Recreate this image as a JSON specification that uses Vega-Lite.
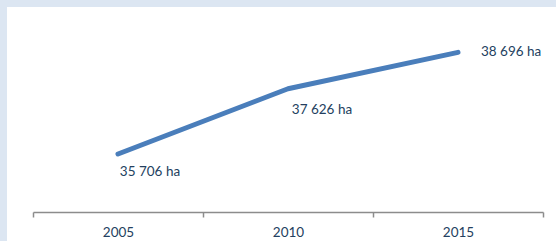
{
  "$schema": "https://vega.github.io/schema/vega-lite/v6.json",
  "width": 549,
  "height": 234,
  "autosize": {"type": "none"},
  "padding": {"left": 7, "top": 7, "right": 0, "bottom": 0},
  "background": "#dce6f2",
  "config": {"view": {"fill": "white", "stroke": null}, "font": "Lato"},
  "data": {"values": [
    {"year": "2005", "area": 35706, "label": "35 706 ha"},
    {"year": "2010", "area": 37626, "label": "37 626 ha"},
    {"year": "2015", "area": 38696, "label": "38 696 ha"}
  ]},
  "encoding": {
    "x": {"field": "year", "type": "ordinal", "bandPosition": 0.5,
      "scale": {"type": "band", "range": [26, 536], "paddingInner": 0, "paddingOuter": 0},
      "axis": {"title": null, "labelAngle": 0, "offset": -29, "tickBand": "extent",
        "domainColor": "#8c8c8c", "tickColor": "#8c8c8c", "tickSize": 5, "domainWidth": 1.5, "tickWidth": 1.5,
        "labelColor": "#243f60", "labelFontSize": 13.5, "labelPadding": 8, "labelFont": "Lato"}},
    "y": {"field": "area", "type": "quantitative", "scale": {"domain": [34000, 40000], "range": [205, 1], "zero": false}, "axis": null}
  },
  "layer": [
    {"mark": {"type": "line", "color": "#4a7ebb", "strokeWidth": 5, "strokeCap": "round", "strokeJoin": "round"}},
    {"transform": [{"filter": "datum.year == '2005'"}],
     "mark": {"type": "text", "dx": 32, "dy": 18, "align": "center", "baseline": "middle", "fontSize": 13.5, "color": "#243f60"},
     "encoding": {"text": {"field": "label"}}},
    {"transform": [{"filter": "datum.year == '2010'"}],
     "mark": {"type": "text", "dx": 34, "dy": 21, "align": "center", "baseline": "middle", "fontSize": 13.5, "color": "#243f60"},
     "encoding": {"text": {"field": "label"}}},
    {"transform": [{"filter": "datum.year == '2015'"}],
     "mark": {"type": "text", "dx": 23, "dy": 0, "align": "left", "baseline": "middle", "fontSize": 13.5, "color": "#243f60"},
     "encoding": {"text": {"field": "label"}}}
  ]
}
